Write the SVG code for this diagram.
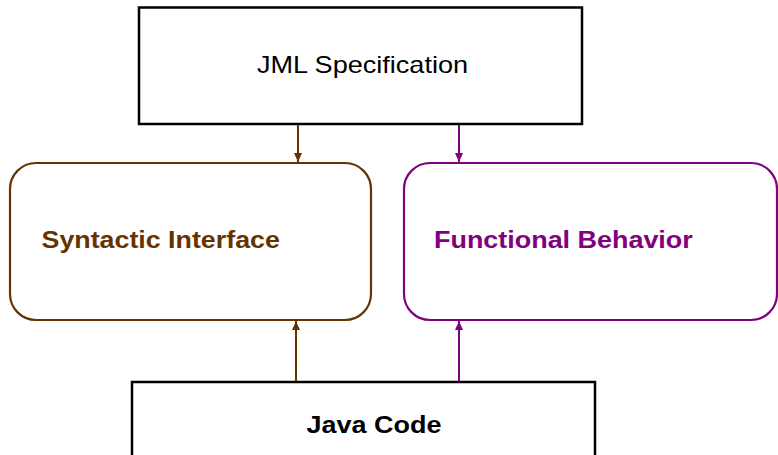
<svg xmlns="http://www.w3.org/2000/svg" width="778" height="455" viewBox="0 0 778 455">
<style>
.box{fill:#fff;stroke:#000;stroke-width:2.5}
.brown{fill:#fff;stroke:#663300;stroke-width:2.2}
.purple{fill:#fff;stroke:#800080;stroke-width:2.2}
.t{font-family:"Liberation Sans",Arial,sans-serif}
.b{font-weight:bold}
.cb{stroke:#663300;stroke-width:2}
.cp{stroke:#800080;stroke-width:2}
</style>
<defs>
<marker id="ab" markerWidth="9" markerHeight="8" refX="9" refY="4" orient="auto" markerUnits="userSpaceOnUse" viewBox="0 0 9 8"><path d="M0,0 L9,4 L0,8 Z" fill="#663300"/></marker>
<marker id="ap" markerWidth="9" markerHeight="8" refX="9" refY="4" orient="auto" markerUnits="userSpaceOnUse" viewBox="0 0 9 8"><path d="M0,0 L9,4 L0,8 Z" fill="#800080"/></marker>
</defs>
<g id="jml">
<rect class="box" x="139" y="7.5" width="443" height="116.5"/>
<text class="t" transform="translate(362.5,73) scale(1.128,1)" font-size="24" text-anchor="middle">JML Specification</text>
</g>
<g id="syntactic">
<rect class="brown" x="10" y="163" width="361" height="157" rx="26" ry="26"/>
<text class="t b" transform="translate(41.5,248) scale(1.166,1)" font-size="23" fill="#663300">Syntactic Interface</text>
</g>
<g id="functional">
<rect class="purple" x="404" y="163" width="373" height="157" rx="26" ry="26"/>
<text class="t b" transform="translate(434,248) scale(1.171,1)" font-size="23" fill="#800080">Functional Behavior</text>
</g>
<g id="java">
<rect class="box" x="132" y="382" width="463" height="100"/>
<text class="t b" transform="translate(374,433) scale(1.174,1)" font-size="23" text-anchor="middle">Java Code</text>
</g>
<g id="connectors" fill="none">
<line class="cb" x1="298" y1="125" x2="298" y2="162" marker-end="url(#ab)"/>
<line class="cp" x1="459" y1="125" x2="459" y2="162" marker-end="url(#ap)"/>
<line class="cb" x1="296" y1="381" x2="296" y2="321" marker-end="url(#ab)"/>
<line class="cp" x1="459" y1="381" x2="459" y2="321" marker-end="url(#ap)"/>
</g>
</svg>
